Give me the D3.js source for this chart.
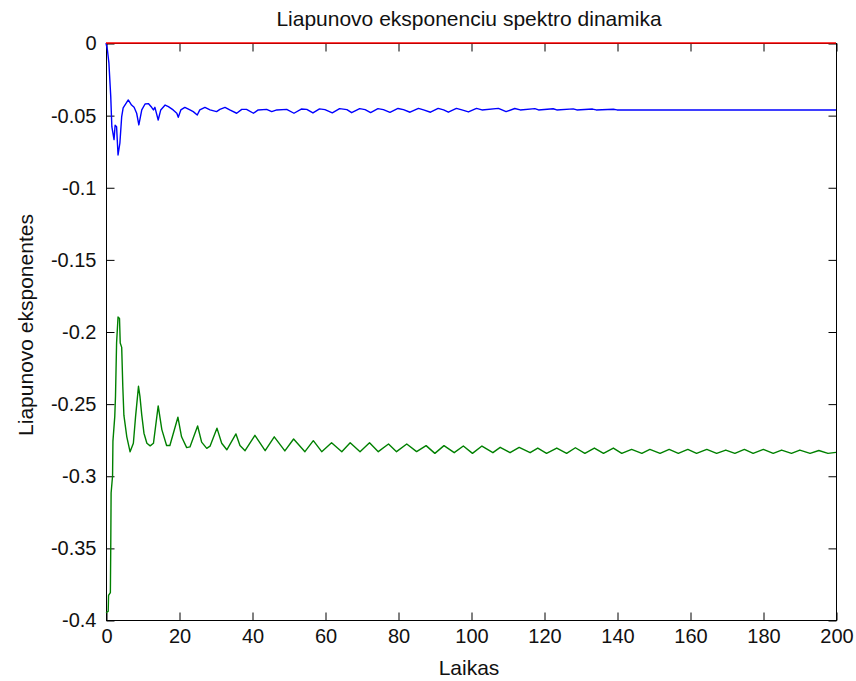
<!DOCTYPE html>
<html>
<head>
<meta charset="utf-8">
<script src="https://cdn.jsdelivr.net/npm/d3@7"></script>
<style>
  body { margin: 0; background: #fff; }
  svg { display: block; font-family: "Liberation Sans", Arial, sans-serif; }
</style>
</head>
<body>
<div id="chart"></div>
<script>
// values
const xTicks = [0, 20, 40, 60, 80, 100, 120, 140, 160, 180, 200]
const yTicks = [0, -0.05, -0.1, -0.15, -0.2, -0.25, -0.3, -0.35, -0.4]
const yTickLabels = ['0', '-0.05', '-0.1', '-0.15', '-0.2', '-0.25', '-0.3', '-0.35', '-0.4']

const redT = [0, 200]
const redV = [0, 0]

const blueT = [0, 0.4, 0.8, 1.3, 1.6, 2.2, 2.5, 2.9, 3.3, 3.8, 4.3, 4.7, 6.1, 7.0, 7.7, 8.4, 9.0, 9.8,
  10.7, 11.6, 12.5, 13.0, 13.4, 14.3, 15.0, 16.2, 17.1, 18.4, 19.4, 19.8, 20.5, 21.6, 23.0, 23.9,
  25.0, 25.7, 27.1, 28.5, 30.3, 31.2, 32.6, 33.9, 35.8, 37.2, 38.5, 40.4, 41.7, 44.0, 45.4, 46.8,
  49.5, 51.5, 53.5, 55.0, 56.7, 58.5, 60.0, 62.0, 64.0, 66.0, 67.3, 69.5, 71.0, 72.5, 74.5, 76.0,
  77.8, 80.0, 81.5, 83.3, 85.6, 87.0, 88.9, 91.0, 92.5, 93.8, 96.0, 97.5, 99.3, 101.5, 103.0,
  107.5, 108.5, 109.6, 112.0, 113.5, 117.5, 118.5, 122.5, 123.5, 128.0, 129.0, 133.3, 134.3,
  139.0, 140.0, 200]
const blueV = [0, -0.005, -0.014, -0.037, -0.058, -0.067, -0.057, -0.058, -0.0776, -0.0695, -0.051,
  -0.045, -0.0395, -0.043, -0.0446, -0.0487, -0.0568, -0.0464, -0.0423, -0.042, -0.0446, -0.0464,
  -0.0446, -0.0534, -0.0464, -0.043, -0.0441, -0.0464, -0.0487, -0.0515, -0.0464, -0.0446, -0.0464,
  -0.0476, -0.0499, -0.0464, -0.0446, -0.0464, -0.0476, -0.046, -0.0446, -0.0464, -0.0487, -0.046,
  -0.046, -0.0487, -0.0464, -0.046, -0.0476, -0.0464, -0.046, -0.0487, -0.0458, -0.046, -0.0485,
  -0.0457, -0.0462, -0.0484, -0.0455, -0.0462, -0.0483, -0.0455, -0.0462, -0.0482, -0.0455, -0.0462,
  -0.0481, -0.0454, -0.0462, -0.048, -0.0453, -0.0464, -0.048, -0.0453, -0.0464, -0.048, -0.0453,
  -0.0464, -0.0478, -0.0453, -0.0464, -0.0453, -0.0464, -0.0476, -0.0454, -0.0464, -0.0455, -0.0464,
  -0.0456, -0.0464, -0.0457, -0.0464, -0.0458, -0.0464, -0.0459, -0.0464, -0.0464]

const greenT = [0, 0.6, 0.7, 1.2, 1.3, 1.4, 1.8, 1.9, 2.4, 2.6, 2.9, 3.3, 3.7, 3.9, 4.3, 4.6, 4.9, 5.7,
  6.6, 7.5, 8.1, 8.9, 9.3, 9.8, 10.4, 11.2, 12.1, 13.0, 14.3, 15.3, 16.6, 17.5, 19.7, 20.7, 22.1,
  23.0, 25.1, 26.2, 27.6, 28.5, 30.4, 31.7, 33.1, 35.6, 36.7, 38.1, 40.8, 43.6, 46.1, 49.0, 51.4,
  54.5, 56.8, 59.1, 61.8, 64.6, 66.9, 69.6, 72.2, 74.6, 77.4, 79.6, 82.4, 85.1, 87.7, 90.1, 92.6,
  95.4, 97.9, 100.4, 103.0, 106.0, 108.0, 110.7, 113.2, 116.2, 118.3, 120.7, 123.5, 126.2, 128.6,
  131.2, 133.8, 136.3, 139.0, 141.3, 144.0, 146.8, 149.0, 151.8, 154.3, 156.8, 159.4, 161.8, 164.6,
  167.3, 169.8, 172.3, 174.9, 177.3, 180.1, 182.8, 185.1, 187.8, 190.1, 192.9, 195.3, 197.8, 200]
const greenV = [-0.395, -0.394, -0.383, -0.381, -0.35, -0.312, -0.3, -0.276, -0.259, -0.245, -0.208,
  -0.19, -0.191, -0.208, -0.211, -0.238, -0.258, -0.273, -0.2834, -0.2775, -0.259, -0.238, -0.245,
  -0.258, -0.2705, -0.2775, -0.2793, -0.2775, -0.2516, -0.268, -0.279, -0.279, -0.2594, -0.273,
  -0.2805, -0.28, -0.2655, -0.2767, -0.281, -0.2795, -0.267, -0.2775, -0.282, -0.271, -0.279,
  -0.2826, -0.272, -0.2826, -0.273, -0.2828, -0.2745, -0.2833, -0.2757, -0.2833, -0.2771, -0.2833,
  -0.2771, -0.2833, -0.2771, -0.2833, -0.278, -0.2833, -0.278, -0.2833, -0.2791, -0.2845, -0.2791,
  -0.284, -0.2794, -0.2845, -0.2794, -0.284, -0.2803, -0.284, -0.2803, -0.284, -0.2808, -0.2845,
  -0.2808, -0.2845, -0.2806, -0.2845, -0.2808, -0.2845, -0.2808, -0.2845, -0.2817, -0.2845, -0.2817,
  -0.2845, -0.2817, -0.2845, -0.2817, -0.2845, -0.2817, -0.2845, -0.2822, -0.2845, -0.2817, -0.2845,
  -0.2817, -0.2845, -0.2822, -0.2845, -0.2822, -0.2845, -0.2825, -0.2845, -0.2838]

const width = 856
const height = 681
const margin = { top: 43, right: 20, bottom: 61, left: 106 }

const svg = d3.select('#chart').append('svg')
  .attr('width', width)
  .attr('height', height)

const x = d3.scaleLinear().domain([0, 200]).range([margin.left, width - margin.right])
const y = d3.scaleLinear().domain([-0.4, 0]).range([height - margin.bottom, margin.top])

const tickLen = 8

// frame
svg.append('rect')
  .attr('x', x(0) + 0.5)
  .attr('y', y(0) + 0.5)
  .attr('width', x(200) - x(0))
  .attr('height', y(-0.4) - y(0))
  .attr('fill', 'none')
  .attr('stroke', '#000')
  .attr('stroke-width', 1)

function styleAxis(g) {
  g.select('.domain').remove()
  g.selectAll('.tick line').attr('stroke', '#000').attr('stroke-width', 1)
  g.selectAll('.tick text').attr('fill', '#111').attr('font-size', '20px')
    .attr('font-family', '"Liberation Sans", Arial, sans-serif')
}

svg.append('g')
  .attr('transform', `translate(0.5,${y(-0.4) + 0.5})`)
  .call(d3.axisBottom(x).tickValues(xTicks).tickSizeInner(-tickLen).tickSizeOuter(0).tickPadding(10))
  .call(styleAxis)
  .call(g => g.selectAll('.tick text').attr('dy', '0.71em').attr('y', 8))

svg.append('g')
  .attr('transform', `translate(0.5,${y(0) + 0.5})`)
  .call(d3.axisTop(x).tickValues(xTicks).tickSizeInner(-tickLen).tickSizeOuter(0).tickFormat(''))
  .call(styleAxis)

svg.append('g')
  .attr('transform', `translate(${x(0) + 0.5},0.5)`)
  .call(d3.axisLeft(y).tickValues(yTicks).tickSizeInner(-tickLen).tickSizeOuter(0)
    .tickFormat((d, i) => yTickLabels[i]).tickPadding(10))
  .call(styleAxis)

svg.append('g')
  .attr('transform', `translate(${x(200) + 0.5},0.5)`)
  .call(d3.axisRight(y).tickValues(yTicks).tickSizeInner(-tickLen).tickSizeOuter(0).tickFormat(''))
  .call(styleAxis)

// series
const line = d3.line().x(d => x(d[0])).y(d => y(d[1]))

const series = [
  { t: blueT, v: blueV, color: '#0000ff' },
  { t: greenT, v: greenV, color: '#008000' },
  { t: redT, v: redV, color: '#ff0000' },
]

series.forEach(s => {
  svg.append('path')
    .datum(s.t.map((t, i) => [t, s.v[i]]))
    .attr('d', line)
    .attr('fill', 'none')
    .attr('stroke', s.color)
    .attr('stroke-width', 1.4)
    .attr('stroke-linejoin', 'round')
})

// labels
svg.append('text')
  .attr('x', 469)
  .attr('y', 26)
  .attr('text-anchor', 'middle')
  .attr('font-size', '21px')
  .attr('fill', '#111')
  .text('Liapunovo eksponenciu spektro dinamika')

svg.append('text')
  .attr('x', 469)
  .attr('y', 675)
  .attr('text-anchor', 'middle')
  .attr('font-size', '21px')
  .attr('fill', '#111')
  .text('Laikas')

svg.append('text')
  .attr('transform', 'translate(33,325) rotate(-90)')
  .attr('text-anchor', 'middle')
  .attr('font-size', '21px')
  .attr('fill', '#111')
  .text('Liapunovo eksponentes')
</script>
</body>
</html>
